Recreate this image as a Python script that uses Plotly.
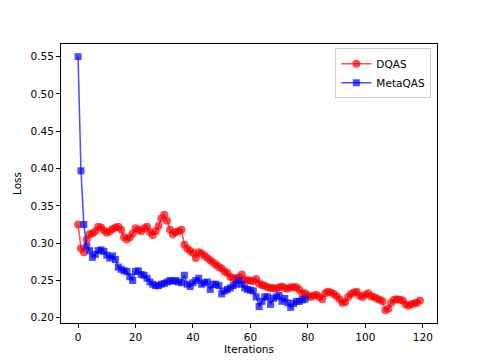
import plotly.graph_objects as go

dqas_loss = [0.325, 0.293, 0.288, 0.305, 0.312, 0.313, 0.316, 0.322, 0.321, 0.317,
             0.314, 0.316, 0.319, 0.321, 0.322, 0.318, 0.308, 0.305, 0.308, 0.313,
             0.320, 0.318, 0.316, 0.320, 0.322, 0.315, 0.311, 0.316, 0.323, 0.333,
             0.338, 0.330, 0.318, 0.312, 0.315, 0.316, 0.318, 0.298, 0.293, 0.290,
             0.287, 0.280, 0.288, 0.286, 0.283, 0.280, 0.277, 0.274, 0.271, 0.268,
             0.266, 0.262, 0.260, 0.255, 0.253, 0.253, 0.254, 0.258, 0.251, 0.250,
             0.250, 0.249, 0.252, 0.246, 0.244, 0.243, 0.241, 0.240, 0.240, 0.239,
             0.241, 0.242, 0.240, 0.239, 0.241, 0.241, 0.241, 0.238, 0.233, 0.233,
             0.230, 0.228, 0.230, 0.231, 0.228, 0.225, 0.233, 0.235, 0.234, 0.232,
             0.229, 0.225, 0.220, 0.221, 0.228, 0.232, 0.234, 0.235, 0.230, 0.228,
             0.231, 0.233, 0.229, 0.228, 0.226, 0.224, 0.222, 0.210, 0.212, 0.220,
             0.224, 0.225, 0.224, 0.223, 0.218, 0.216, 0.218, 0.219, 0.220, 0.223]

metaqas_loss = [0.550, 0.397, 0.325, 0.296, 0.290, 0.281, 0.285, 0.290, 0.291, 0.289,
                0.284, 0.280, 0.283, 0.278, 0.268, 0.265, 0.263, 0.262, 0.255, 0.250,
                0.262, 0.263, 0.258, 0.257, 0.253, 0.248, 0.245, 0.243, 0.243, 0.245,
                0.246, 0.248, 0.250, 0.249, 0.250, 0.248, 0.247, 0.257, 0.245, 0.242,
                0.247, 0.250, 0.253, 0.245, 0.247, 0.248, 0.238, 0.245, 0.245, 0.243,
                0.232, 0.236, 0.238, 0.240, 0.243, 0.245, 0.250, 0.245, 0.240, 0.238,
                0.237, 0.236, 0.228, 0.215, 0.222, 0.228, 0.228, 0.218, 0.226, 0.228,
                0.230, 0.222, 0.226, 0.220, 0.214, 0.219, 0.222, 0.222, 0.224, 0.225]

dqas_iter = list(range(len(dqas_loss)))
metaqas_iter = list(range(len(metaqas_loss)))

x_ticks = [0, 20, 40, 60, 80, 100, 120]
y_ticks = [0.20, 0.25, 0.30, 0.35, 0.40, 0.45, 0.50, 0.55]

FONT = "DejaVu Sans"

fig = go.Figure()
fig.add_trace(go.Scatter(
    x=dqas_iter, y=dqas_loss, name="DQAS", mode="lines+markers",
    line=dict(color="rgba(255,0,0,0.7)", width=1.5),
    marker=dict(symbol="circle", size=8, color="rgba(255,0,0,0.7)", line=dict(width=0)),
))
fig.add_trace(go.Scatter(
    x=metaqas_iter, y=metaqas_loss, name="MetaQAS", mode="lines+markers",
    line=dict(color="rgba(0,0,255,0.7)", width=1.5),
    marker=dict(symbol="square", size=7, color="rgba(0,0,255,0.7)", line=dict(width=0)),
))

axis_common = dict(
    showline=True, linecolor="black", linewidth=1, mirror=True,
    ticks="outside", ticklen=4, tickcolor="black", tickwidth=1,
    showgrid=False, zeroline=False, automargin=False,
    tickfont=dict(family=FONT, size=10.5, color="black"),
)

fig.update_layout(
    width=485, height=364,
    margin=dict(l=61, r=48, t=44, b=41),
    paper_bgcolor="white", plot_bgcolor="white",
    font=dict(family=FONT, size=10.5, color="black"),
    xaxis=dict(range=[-5.95, 124.95], tickvals=x_ticks,
               ticktext=[str(v) for v in x_ticks],
               title=dict(text="Iterations", font=dict(family=FONT, size=10.5), standoff=4),
               **axis_common),
    yaxis=dict(range=[0.193, 0.567], tickvals=y_ticks,
               ticktext=[f"{v:.2f}" for v in y_ticks],
               title=dict(text="Loss", font=dict(family=FONT, size=10.5), standoff=6),
               **axis_common),
    legend=dict(x=0.985, y=0.985, xanchor="right", yanchor="top",
                bgcolor="rgba(255,255,255,0.8)", bordercolor="#cccccc", borderwidth=1,
                font=dict(family=FONT, size=10.5), itemwidth=30, tracegroupgap=0),
    showlegend=True,
)

fig.write_html("out.html", config={"displayModeBar": False},
               post_script="document.body.style.margin='0';")
